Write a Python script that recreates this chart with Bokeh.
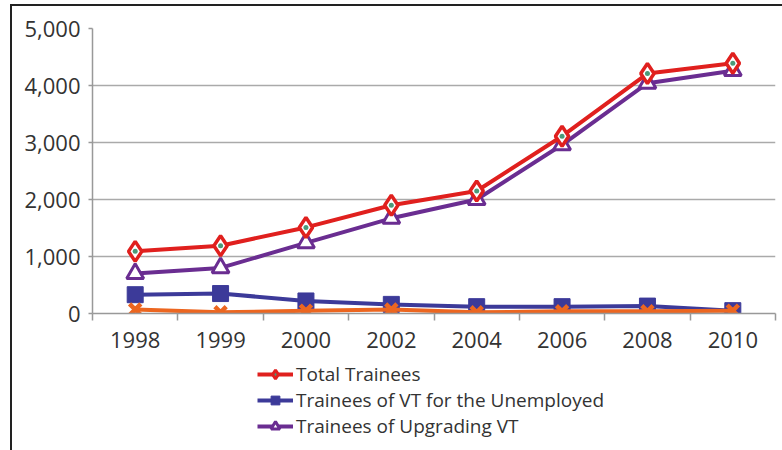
from bokeh.plotting import figure
from bokeh.layouts import column
from bokeh.models import FixedTicker, Legend, LegendItem, NumeralTickFormatter
from bokeh.embed import file_html
from bokeh.resources import INLINE

years = ["1998", "1999", "2000", "2002", "2004", "2006", "2008", "2010"]
total_trainees = [1090, 1190, 1510, 1900, 2150, 3110, 4210, 4390]
vt_unemployed = [330, 350, 220, 160, 120, 120, 130, 50]
upgrading_vt = [700, 800, 1240, 1670, 2000, 2960, 4040, 4260]
other_vt = [70, 20, 50, 70, 20, 40, 40, 50]
y_ticks = [0, 1000, 2000, 3000, 4000, 5000]
legend_labels = ["Total Trainees", "Trainees of VT for the Unemployed", "Trainees of Upgrading VT"]

xs = list(range(len(years)))
FONT = "Open Sans"

p = figure(width=770, height=352, output_backend="svg", toolbar_location=None,
           x_range=(-0.5, len(years) - 0.5), y_range=(0, 5000),
           min_border_left=80, min_border_right=7, min_border_top=22, min_border_bottom=45)
p.outline_line_color = None
p.background_fill_color = "white"

# axes
p.xaxis.ticker = FixedTicker(ticks=xs, minor_ticks=[i - 0.5 for i in range(len(years) + 1)])
p.xaxis.major_label_overrides = {i: y for i, y in enumerate(years)}
p.xaxis.major_tick_line_color = None
p.xaxis.major_tick_out = 0
p.xaxis.major_tick_in = 0
p.xaxis.minor_tick_line_color = "#999999"
p.xaxis.minor_tick_line_width = 1.5
p.xaxis.minor_tick_out = 7
p.xaxis.minor_tick_in = 0
p.xaxis.axis_line_color = "#999999"
p.xaxis.axis_line_width = 1.5
p.xaxis.major_label_standoff = 11
p.yaxis.ticker = FixedTicker(ticks=y_ticks)
p.yaxis.formatter = NumeralTickFormatter(format="0,0")
p.yaxis.minor_tick_line_color = None
p.yaxis.major_tick_line_color = "#999999"
p.yaxis.major_tick_line_width = 1.5
p.yaxis.major_tick_out = 4
p.yaxis.major_tick_in = 0
p.yaxis.axis_line_color = "#999999"
p.yaxis.axis_line_width = 1.5
p.yaxis.major_label_standoff = 8
for ax in (p.xaxis, p.yaxis):
    ax.major_label_text_font = FONT
    ax.major_label_text_font_size = "22px"
    ax.major_label_text_color = "#333333"

p.xgrid.grid_line_color = None
p.ygrid.grid_line_color = "#aaaaaa"
p.ygrid.grid_line_width = 1.5

RED = "#e0201e"
BLUE = "#3c3a99"
PURPLE = "#6a2d91"
ORANGE = "#ec6620"
GREEN_DOT = "#4a9a78"

# unemployed
p.line(xs, vt_unemployed, line_color=BLUE, line_width=4)
p.scatter(xs, vt_unemployed, marker="square", size=16, fill_color=BLUE, line_color=BLUE)

# orange series (drawn over the blue one)
p.line(xs, other_vt, line_color=ORANGE, line_width=4)
p.scatter(xs, other_vt, marker="x", size=16, line_color=ORANGE, line_width=4.5)

# upgrading
p.line(xs, upgrading_vt, line_color=PURPLE, line_width=4)
p.scatter(xs, upgrading_vt, marker="triangle", size=17, fill_color="white",
          line_color=PURPLE, line_width=3)

# total
p.line(xs, total_trainees, line_color=RED, line_width=4)
p.scatter(xs, total_trainees, marker="diamond", size=20, fill_color="white",
          line_color=RED, line_width=3.5)
p.scatter(xs, total_trainees, marker="circle", size=5, fill_color=GREEN_DOT, line_color=None)

# legend panel (separate figure under the chart, same styles as the series)
lg = figure(width=770, height=92, output_backend="svg", toolbar_location=None,
            x_range=(0, 1), y_range=(0, 1), min_border=0,
            x_axis_type=None, y_axis_type=None)
lg.grid.visible = False
lg.outline_line_color = None
ox, oy = [5], [5]  # off-range anchor points: only the legend glyphs show
lt1 = lg.line(ox, oy, line_color=RED, line_width=4)
lt2 = lg.scatter(ox, oy, marker="diamond", size=14, fill_color=GREEN_DOT, line_color=RED, line_width=3)
lu1 = lg.line(ox, oy, line_color=BLUE, line_width=4)
lu2 = lg.scatter(ox, oy, marker="square", size=14, fill_color=BLUE, line_color=BLUE)
lp1 = lg.line(ox, oy, line_color=PURPLE, line_width=4)
lp2 = lg.scatter(ox, oy, marker="triangle", size=12, fill_color="white", line_color=PURPLE, line_width=3)

legend = Legend(items=[
    LegendItem(label=legend_labels[0], renderers=[lt1, lt2]),
    LegendItem(label=legend_labels[1], renderers=[lu1, lu2]),
    LegendItem(label=legend_labels[2], renderers=[lp1, lp2]),
], location=(165, 11), orientation="vertical")
legend.label_text_font = FONT
legend.label_text_font_size = "19px"
legend.label_text_color = "#333333"
legend.glyph_width = 36
legend.glyph_height = 22
legend.label_height = 22
legend.spacing = 0
legend.label_standoff = 3
legend.padding = 2
legend.margin = 0
legend.border_line_color = None
legend.background_fill_alpha = 0
lg.add_layout(legend, "center")

layout = column(p, lg, spacing=0)
layout.styles = {"margin-left": "10px", "margin-top": "4px",
                 "border-top": "2px solid #222", "border-left": "2px solid #222"}

open("out.html", "w").write(file_html(layout, INLINE))
